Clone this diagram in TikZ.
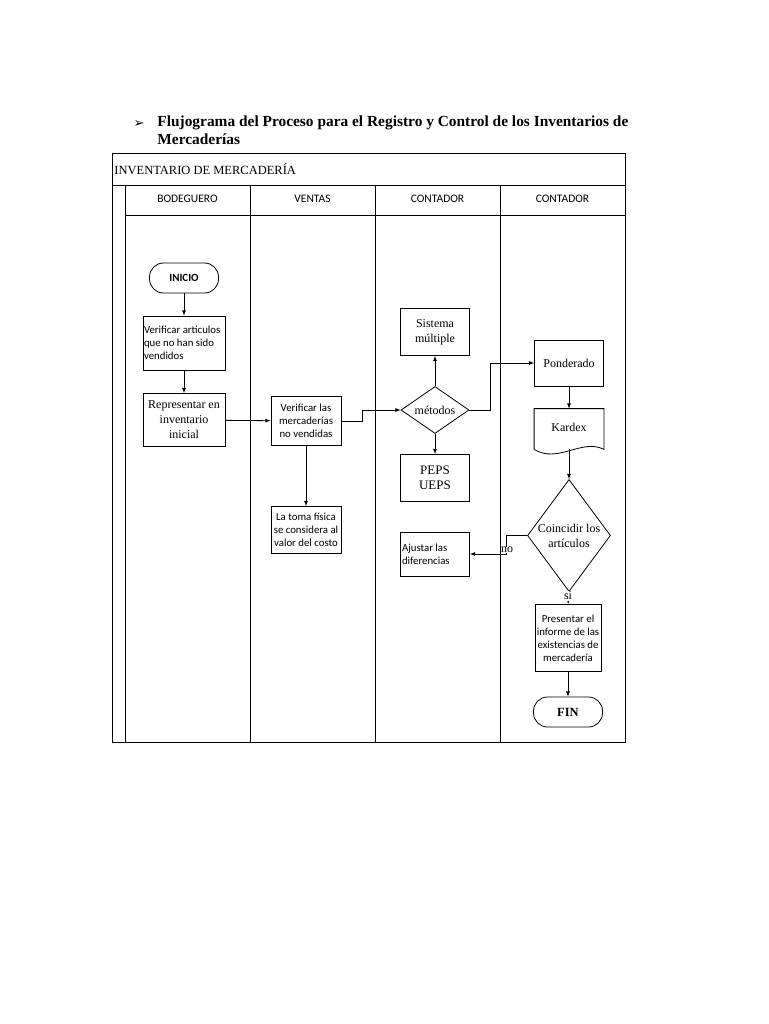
\documentclass[tikz,border=0pt]{standalone}
\usepackage{fontspec}
\setmainfont{Liberation Serif}
\newfontfamily\calib{Carlito}
\newfontfamily\symb{DejaVu Sans}
\usepackage{tikz}
\usetikzlibrary{arrows,shapes.geometric,positioning}

\begin{document}
\begin{tikzpicture}[x=1pt,y=-1pt,->,>=latex,line width=0.8pt,
	sansbox/.style={rectangle,draw,inner sep=1pt,align=center,font=\calib\fontsize{10.8}{13}\selectfont},
	serifbox/.style={rectangle,draw,inner sep=1pt,align=center,font=\fontsize{12}{15}\selectfont},
	termnode/.style={rectangle,draw,rounded corners=14pt,minimum width=69pt,minimum height=30pt},
	decision/.style={diamond,draw,inner sep=0pt},
	lanehead/.style={font=\calib\fontsize{11.5}{13}\selectfont}]
		\useasboundingbox (0,0) rectangle (768,1024);
		% titulo
		\node (bullet) at (139,124) {\symb\fontsize{13}{15}\selectfont ➢};
		\node [anchor=north west,align=left,inner sep=0pt,font=\bfseries\fontsize{15.4}{18}\selectfont] (title) at (157,115) {Flujograma del Proceso para el Registro y Control de los Inventarios de\\Mercaderías};
		% marco y carriles
		\draw[-] (112,153) rectangle (625,742);
		\draw[-] (112,185) -- (625,185);
		\draw[-] (125,215) -- (625,215);
		\foreach \x in {125,250,375,500} \draw[-] (\x,185) -- (\x,742);
		\node [anchor=west,inner sep=0pt,font=\fontsize{12.5}{14}\selectfont] (pool) at (114,169) {INVENTARIO DE MERCADERÍA};
		\node [lanehead] (l1) at (187.5,199) {BODEGUERO};
		\node [lanehead] (l2) at (312.5,199) {VENTAS};
		\node [lanehead] (l3) at (437.5,199) {CONTADOR};
		\node [lanehead] (l4) at (562.5,199) {CONTADOR};
		% nodos
		\node [termnode,font=\calib\bfseries\fontsize{11}{12}\selectfont] (inicio) at (184,278) {INICIO};
		\node [sansbox,minimum width=82pt,minimum height=54pt,text width=80pt,align=flush left] (verif1) at (184,343) {Verificar artículos que no han sido vendidos};
		\node [serifbox,minimum width=82pt,minimum height=53pt] (repr) at (184,420) {Representar en\\inventario\\inicial};
		\node [sansbox,minimum width=70pt,minimum height=49pt] (verif2) at (306,421) {Verificar las\\mercaderías\\no vendidas};
		\node [sansbox,minimum width=70pt,minimum height=47pt] (toma) at (306,530) {La toma física\\se considera al\\valor del costo};
		\node [decision,minimum width=68pt,minimum height=47pt,label={[font=\fontsize{12}{14}\selectfont]center:métodos}] (metodos) at (435,410) {};
		\node [serifbox,minimum width=69pt,minimum height=47pt] (sistema) at (435,332) {Sistema\\múltiple};
		\node [serifbox,minimum width=69pt,minimum height=47pt,font=\fontsize{13}{15}\selectfont] (peps) at (435,478) {PEPS\\UEPS};
		\node [sansbox,minimum width=69pt,minimum height=44pt,text width=66pt,align=flush left] (ajustar) at (435,554) {Ajustar las\\diferencias};
		\node [serifbox,minimum width=69pt,minimum height=46pt] (ponder) at (569,363) {Ponderado};
		\node [rectangle,minimum width=69pt,minimum height=40pt,inner sep=1pt,font=\fontsize{12}{14}\selectfont] (kardex) at (569,429) {\raisebox{4pt}{Kardex}};
		\draw[-] (kardex.south west) -- (kardex.north west) -- (kardex.north east) -- (kardex.south east) .. controls (582,438) and (558,464) .. (kardex.south west);
		\node [decision,minimum width=83pt,minimum height=112pt,label={[align=center,font=\fontsize{12}{15}\selectfont]center:Coincidir los\\artículos}] (coin) at (569,535.5) {};
		\node [sansbox,minimum width=66pt,minimum height=67pt] (pres) at (568,638) {Presentar el\\informe de las\\existencias de\\mercadería};
		\node [termnode,font=\bfseries\fontsize{12.5}{14}\selectfont] (fin) at (568,712) {FIN};
		% conectores
		\draw (inicio) to (verif1);
		\draw (verif1) to (repr);
		\draw (repr) to (verif2);
		\draw (verif2.east) -- ++(21,0) |- (metodos.west);
		\draw (verif2) to (toma);
		\draw (metodos) to (sistema);
		\draw (metodos) to (peps);
		\draw (metodos.east) -- ++(21,0) |- (ponder.west);
		\draw (ponder) to (kardex);
		\draw (kardex.south) to (coin.north);
		\draw (coin.west) -- ++(-21,0) |- (ajustar.east);
		\node [fill=white,inner sep=0.5pt,font=\fontsize{12}{14}\selectfont] (no) at (507,550) {no};
		\draw (coin.south) to (pres.north);
		\node [fill=white,inner sep=0.5pt,font=\fontsize{12}{14}\selectfont] (si) at (568,596) {si};
		\draw (pres) to (fin);
\end{tikzpicture}
\end{document}
